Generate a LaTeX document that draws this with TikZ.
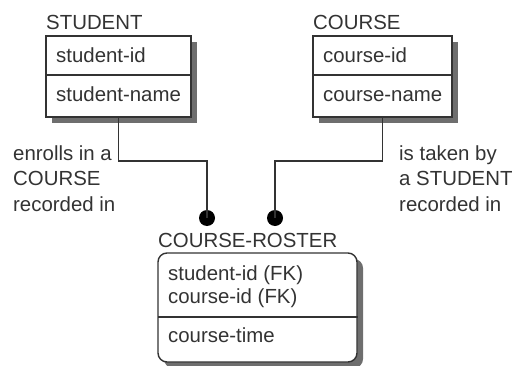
\documentclass[tikz,border=0pt]{standalone}
\usepackage{fontspec}
\setmainfont{Liberation Sans}
\usetikzlibrary{shadows}
\definecolor{ink}{HTML}{333333}
\definecolor{shade}{HTML}{6E6E6E}
\begin{document}
\begin{tikzpicture}[x=1pt,y=-1pt,
  every node/.style={font=\fontsize{20.4}{25.5}\selectfont, text=ink},
  entitybox/.style={draw=ink, line width=1.4pt, fill=white, inner sep=0pt,
     drop shadow={shadow xshift=6pt, shadow yshift=-6pt, opacity=1, fill=shade}},
  txt/.style={anchor=base west, inner sep=0pt},
  lbl/.style={anchor=base west, inner sep=0pt, align=left},
  conn/.style={draw=ink, line width=1.4pt},
  dotmark/.style={circle, fill=black, inner sep=0pt, minimum size=16pt}]
\useasboundingbox (0,0) rectangle (513,366);
% entity boxes
\node[entitybox, minimum width=145pt, minimum height=81pt] (student) at (118.5,76.5) {};
\node[entitybox, minimum width=139pt, minimum height=81pt] (course) at (382.5,76.5) {};
\node[entitybox, rounded corners=9pt, minimum width=199pt, minimum height=109pt] (roster) at (257.5,307.5) {};
% dividers
\coordinate (sd) at (46,75);
\coordinate (cd) at (313,75);
\coordinate (rd) at (158,317);
\draw[conn] (sd) -- (sd -| student.east);
\draw[conn] (cd) -- (cd -| course.east);
\draw[conn] (rd) -- (rd -| roster.east);
% titles
\node[txt] (tstudent) at (46,30) {STUDENT};
\node[txt] (tcourse) at (313,30) {COURSE};
\node[txt] (troster) at (158,247) {COURSE-ROSTER};
% attributes
\node[txt] (a1) at (56,63) {student-id};
\node[txt] (a2) at (56,102) {student-name};
\node[txt] (a3) at (323,63) {course-id};
\node[txt] (a4) at (323,102) {course-name};
\node[txt] (a5) at (168,280) {student-id (FK)};
\node[txt] (a6) at (168,303) {course-id (FK)};
\node[txt] (a7) at (168,342) {course-time};
% dots
\node[dotmark] (d1) at (207,218) {};
\node[dotmark] (d2) at (275,218) {};
% connectors
\coordinate (k1) at (207,161);
\coordinate (k2) at (275,161);
\draw[conn] (student.south) -- (student.south |- k1) -- (k1) -- (d1.center);
\draw[conn] (course.south) -- (course.south |- k2) -- (k2) -- (d2.center);
% labels
\node[lbl] (l1) at (13,211) {enrolls in a\\COURSE\\recorded in};
\node[lbl] (l2) at (399,211) {is taken by\\a STUDENT\\recorded in};
\end{tikzpicture}
\end{document}
